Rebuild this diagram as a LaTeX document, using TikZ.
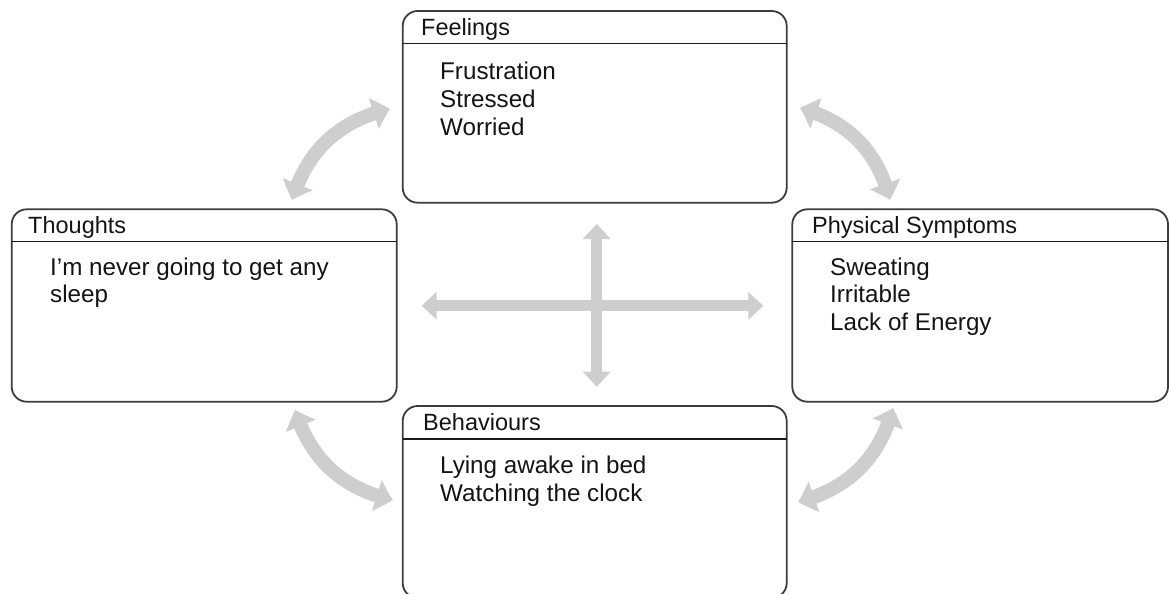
\documentclass[tikz,border=0pt]{standalone}
\usepackage{fontspec}
\setmainfont{Liberation Sans}
\usetikzlibrary{arrows.meta,bending}
\definecolor{boxc}{RGB}{60,60,60}
\definecolor{arrc}{RGB}{206,206,206}
\definecolor{txtc}{RGB}{20,20,20}
\begin{document}
\begin{tikzpicture}[x=1pt,y=-1pt,
  box/.style={draw=boxc, line width=1.8pt, rounded corners=15pt, fill=white, inner sep=0pt, outer sep=0pt},
  hdr/.style={draw=black!90, line width=1.4pt},
  ttl/.style={anchor=base west, inner sep=0pt, font=\fontsize{23.5}{27}\selectfont, text=txtc},
  txt/.style={anchor=base west, inner sep=0pt, font=\fontsize{24.2}{28}\selectfont, text=txtc},
  fat/.style={draw=arrc, line width=14pt, {Triangle[width=31pt,length=17pt,bend]}-{Triangle[width=31pt,length=17pt,bend]}},
  crossarr/.style={draw=arrc, line width=11pt, {Triangle[width=27pt,length=15pt]}-{Triangle[width=27pt,length=15pt]}}
]
\useasboundingbox (0,0) rectangle (1170,594);

% boxes
\node[box, minimum width=384pt, minimum height=191.7pt] (feel) at (594.7,106.85) {};
\node[box, minimum width=385pt, minimum height=192.4pt] (thou) at (204.2,305.5) {};
\node[box, minimum width=375.7pt, minimum height=192.4pt] (phys) at (980.15,305.5) {};
\node[box, minimum width=384pt, minimum height=192pt] (beha) at (594.7,502) {};

% header lines
\draw[hdr] (feel.west |- 0,43.3) -- (feel.east |- 0,43.3);
\draw[hdr] (thou.west |- 0,241.7) -- (thou.east |- 0,241.7);
\draw[hdr] (phys.west |- 0,241.7) -- (phys.east |- 0,241.7);
\draw[hdr] (beha.west |- 0,439) -- (beha.east |- 0,439);

% titles
\node[ttl] (feelT) at (421,36) {Feelings};
\node[ttl] (thouT) at (28,233) {Thoughts};
\node[ttl] (physT) at (812,233) {Physical Symptoms};
\node[ttl] (behaT) at (423,430) {Behaviours};

% contents
\node[txt] (f1) at (440,80) {Frustration};
\node[txt] (f2) at (440,107.5) {Stressed};
\node[txt] (f3) at (440,135) {Worried};

\node[txt] (t1) at (50,275) {I’m never going to get any};
\node[txt] (t2) at (50,302.5) {sleep};

\node[txt] (p1) at (830,275) {Sweating};
\node[txt] (p2) at (830,302.5) {Irritable};
\node[txt] (p3) at (830,330) {Lack of Energy};

\node[txt] (b1) at (440,473) {Lying awake in bed};
\node[txt] (b2) at (440,501) {Watching the clock};

% curved arrow ends
\coordinate (tlA) at (292,200);
\coordinate (tlB) at (390,109);
\coordinate (trA) at (800,108);
\coordinate (trB) at (890,200);
\coordinate (brA) at (893,408);
\coordinate (brB) at (798,502);
\coordinate (blA) at (393,500);
\coordinate (blB) at (295,410);

\draw[fat] (tlA) to[bend left=30] (tlB);
\draw[fat] (trA) to[bend left=30] (trB);
\draw[fat] (brA) to[bend left=30] (brB);
\draw[fat] (blA) to[bend left=30] (blB);

% cross arrows
\coordinate (cU) at (596.7,224);
\coordinate (cD) at (596.7,386.7);
\coordinate (cL) at (421.7,305.8);
\coordinate (cR) at (763.3,305.8);
\draw[crossarr] (cL) -- (cR);
\draw[crossarr] (cU) -- (cD);
\end{tikzpicture}
\end{document}
